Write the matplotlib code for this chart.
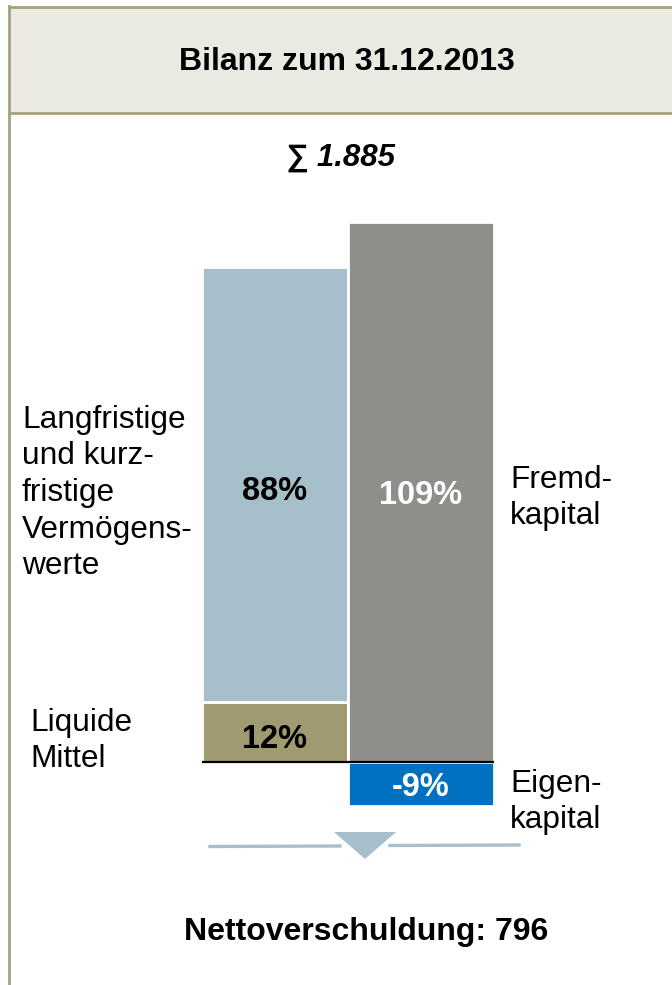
import matplotlib
matplotlib.use("Agg")
import matplotlib.pyplot as plt
from matplotlib.patches import Rectangle, Polygon
from matplotlib.lines import Line2D

plt.rcParams['font.family'] = ['Liberation Sans', 'DejaVu Sans']

# data (percent of balance sheet total)
title = "Bilanz zum 31.12.2013"
total_label = "\u2211 1.885"
net_debt_label = "Nettoverschuldung: 796"

positions = [0, 1]
assets_liquid = [12, 0]          # Liquide Mittel
assets_other = [88, 0]           # Langfristige und kurzfristige Vermögenswerte
liabilities = [0, 109]           # Fremdkapital
equity = [0, -9]                 # Eigenkapital

c_lightblue = "#A7BFCA"
c_olive = "#A09A70"
c_gray = "#8E8F8A"
c_blue = "#0070C0"
c_border = "#A6A27E"
c_header = "#EBEAE2"

W, H = 672, 985
fig = plt.figure(figsize=(W / 100, H / 100), dpi=100)


def fx(px):
    return px / W


def fy(py):
    return 1 - py / H


# frame and header band
fig.patches.append(Rectangle((fx(9), fy(113)), fx(W - 9), fy(7) - fy(113),
                             transform=fig.transFigure, facecolor=c_header,
                             edgecolor="none", zorder=0))
fig.lines.append(Line2D([fx(9), 1], [fy(7), fy(7)], transform=fig.transFigure,
                        color=c_border, lw=2))
fig.lines.append(Line2D([fx(9), 1], [fy(113), fy(113)], transform=fig.transFigure,
                        color=c_border, lw=2))
fig.lines.append(Line2D([fx(9), fx(9)], [fy(6), 0], transform=fig.transFigure,
                        color=c_border, lw=2))

fig.text(fx(347), fy(62), title, ha="center", va="center", fontsize=23,
         fontweight="bold")
fig.text(fx(340), fy(158), total_label, ha="center", va="center", fontsize=22.5,
         fontweight="bold", style="italic")

# bar axes: 0% at y=761.5 px, 1% = 4.95 px
ax = fig.add_axes([fx(201.75), fy(860.5), fx(292), (860.5 - 167.5) / H])
ax.set_xlim(-0.5, 1.5)
ax.set_ylim(-20, 120)
ax.axis("off")

ax.bar(positions, assets_liquid, width=1.0, color=c_olive, edgecolor="white", lw=2)
ax.bar(positions, assets_other, bottom=assets_liquid, width=1.0, color=c_lightblue,
       edgecolor="white", lw=2)
ax.bar(positions, liabilities, width=1.0, color=c_gray, edgecolor="white", lw=2)
ax.bar(positions, equity, width=1.0, color=c_blue, edgecolor="white", lw=2)
ax.axhline(0, color="black", lw=1.6)

ax.text(0, (assets_liquid[0] + assets_other[0]) / 2 + 4.5, f"{assets_other[0]}%",
        ha="center", va="center", fontsize=23.5, fontweight="bold", color="black")
ax.text(0, assets_liquid[0] / 2 - 1.5, f"{assets_liquid[0]}%", ha="center", va="center",
        fontsize=23.5, fontweight="bold", color="black")
ax.text(1, liabilities[1] * 0.5 - 0.7, f"{liabilities[1]}%", ha="center", va="center",
        fontsize=23.5, fontweight="bold", color="white")
ax.text(1, equity[1] / 2 - 0.8, f"{equity[1]}%", ha="center", va="center",
        fontsize=23.5, fontweight="bold", color="white")

# side labels
fig.text(fx(22), fy(493), "Langfristige\nund kurz-\nfristige\nVermögens-\nwerte",
         ha="left", va="center", fontsize=22.8, linespacing=1.29)
fig.text(fx(30), fy(741), "Liquide\nMittel", ha="left", va="center", fontsize=22.8,
         linespacing=1.29)
fig.text(fx(510), fy(498), "Fremd-\nkapital", ha="left", va="center", fontsize=22.8,
         linespacing=1.29)
fig.text(fx(510), fy(802), "Eigen-\nkapital", ha="left", va="center", fontsize=22.8,
         linespacing=1.29)

# arrow marker below the bars
fig.lines.append(Line2D([fx(210), fx(340)], [fy(846.5), fy(846)], transform=fig.transFigure,
                        color=c_lightblue, lw=2.4))
fig.lines.append(Line2D([fx(390), fx(519)], [fy(845.5), fy(845)], transform=fig.transFigure,
                        color=c_lightblue, lw=2.4))
fig.patches.append(Polygon([(fx(334), fy(832)), (fx(396), fy(832)), (fx(365), fy(859))],
                           closed=True, transform=fig.transFigure,
                           facecolor=c_lightblue, edgecolor="none"))

fig.text(fx(366), fy(932), net_debt_label, ha="center", va="center", fontsize=23,
         fontweight="bold")

fig.savefig("out.png", dpi=100)
